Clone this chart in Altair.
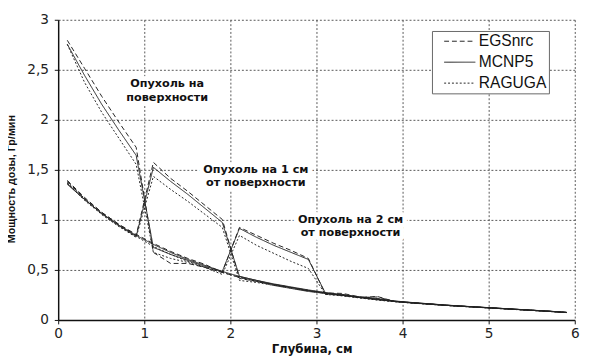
import altair as alt
import pandas as pd

depth = [0.1, 0.3, 0.5, 0.7, 0.9, 1.1, 1.3, 1.5, 1.7, 1.9, 2.1, 2.3, 2.5, 2.7, 2.9,
         3.1, 3.3, 3.5, 3.7, 3.9, 4.1, 4.3, 4.5, 4.7, 4.9, 5.1, 5.3, 5.5, 5.7, 5.9]

mcnp_surface = [2.76, 2.45, 2.16, 1.90, 1.65, 0.73, 0.66, 0.60, 0.54, 0.49, 0.44, 0.40, 0.36, 0.33, 0.30,
                0.275, 0.25, 0.23, 0.21, 0.19, 0.177, 0.165, 0.152, 0.142, 0.132, 0.122, 0.112, 0.102, 0.092, 0.08]
egs_surface = [2.80, 2.52, 2.24, 1.98, 1.73, 0.68, 0.57, 0.57, 0.53, 0.48, 0.43, 0.39, 0.355, 0.325, 0.295,
               0.27, 0.26, 0.23, 0.235, 0.19, 0.175, 0.163, 0.15, 0.14, 0.13, 0.12, 0.11, 0.10, 0.09, 0.08]
rag_surface = [2.76, 2.38, 2.08, 1.82, 1.56, 0.68, 0.62, 0.58, 0.53, 0.48, 0.43, 0.39, 0.35, 0.32, 0.29,
               0.27, 0.25, 0.225, 0.205, 0.188, 0.175, 0.163, 0.15, 0.14, 0.13, 0.12, 0.11, 0.10, 0.09, 0.079]

mcnp_1cm = [1.36, 1.21, 1.07, 0.95, 0.84, 1.53, 1.39, 1.26, 1.12, 0.98, 0.44, 0.40, 0.365, 0.335, 0.305,
            0.28, 0.255, 0.235, 0.215, 0.195, 0.18, 0.167, 0.154, 0.143, 0.133, 0.123, 0.113, 0.103, 0.093, 0.081]
egs_1cm = [1.40, 1.23, 1.08, 0.96, 0.85, 1.58, 1.42, 1.29, 1.15, 1.01, 0.42, 0.39, 0.36, 0.33, 0.30,
           0.275, 0.27, 0.235, 0.22, 0.192, 0.178, 0.165, 0.152, 0.142, 0.132, 0.122, 0.112, 0.102, 0.092, 0.08]
rag_1cm = [1.38, 1.22, 1.06, 0.94, 0.83, 1.44, 1.31, 1.19, 1.06, 0.93, 0.40, 0.38, 0.35, 0.32, 0.29,
           0.27, 0.25, 0.228, 0.208, 0.19, 0.176, 0.164, 0.151, 0.141, 0.131, 0.121, 0.111, 0.101, 0.091, 0.079]

mcnp_2cm = [1.37, 1.21, 1.07, 0.95, 0.85, 0.76, 0.68, 0.61, 0.55, 0.49, 0.92, 0.83, 0.75, 0.68, 0.61,
            0.27, 0.25, 0.232, 0.212, 0.193, 0.178, 0.166, 0.153, 0.142, 0.132, 0.122, 0.112, 0.102, 0.092, 0.08]
egs_2cm = [1.39, 1.22, 1.08, 0.96, 0.86, 0.77, 0.69, 0.62, 0.56, 0.48, 0.93, 0.85, 0.77, 0.70, 0.62,
           0.26, 0.255, 0.23, 0.24, 0.19, 0.176, 0.164, 0.151, 0.141, 0.131, 0.121, 0.111, 0.101, 0.091, 0.08]
rag_2cm = [1.37, 1.20, 1.06, 0.94, 0.84, 0.74, 0.66, 0.59, 0.53, 0.46, 0.85, 0.75, 0.67, 0.59, 0.52,
           0.26, 0.245, 0.225, 0.205, 0.188, 0.174, 0.162, 0.15, 0.14, 0.13, 0.12, 0.11, 0.10, 0.09, 0.079]

methods = ["EGSnrc", "MCNP5", "RAGUGA"]
series = {
    ("EGSnrc", "surface"): egs_surface, ("MCNP5", "surface"): mcnp_surface, ("RAGUGA", "surface"): rag_surface,
    ("EGSnrc", "1cm"): egs_1cm, ("MCNP5", "1cm"): mcnp_1cm, ("RAGUGA", "1cm"): rag_1cm,
    ("EGSnrc", "2cm"): egs_2cm, ("MCNP5", "2cm"): mcnp_2cm, ("RAGUGA", "2cm"): rag_2cm,
}

label_text = ["Опухоль на", "поверхности", "Опухоль на 1 см", "от поверхности",
              "Опухоль на 2 см", "от поверхности"]
label_x = [1.26, 1.26, 2.29, 2.29, 3.39, 3.39]
label_y = [2.36, 2.22, 1.50, 1.37, 1.00, 0.87]

x_ticks = [0, 1, 2, 3, 4, 5, 6]
x_tick_labels = ["0", "1", "2", "3", "4", "5", "6"]
y_ticks = [0, 0.5, 1, 1.5, 2, 2.5, 3]
y_tick_labels = ["0", "0,5", "1", "1,5", "2", "2,5", "3"]
x_grid = [1, 2, 3, 4, 5, 6]
y_grid = [0.5, 1, 1.5, 2, 2.5, 3]
x_title = "Глубина, см"
y_title = "Мощность дозы, Гр/мин"

rows = []
for (m, s), vals in series.items():
    for d, v in zip(depth, vals):
        rows.append({"depth": d, "dose": v, "method": m, "series": m + "_" + s})
df = pd.DataFrame(rows)
labels = pd.DataFrame({"x": label_x, "y": label_y, "text": label_text})
grid_df = pd.DataFrame({"gx": x_grid, "gy": y_grid})
xt_df = pd.DataFrame({"v": x_ticks, "t": x_tick_labels})
yt_df = pd.DataFrame({"v": y_ticks, "t": y_tick_labels})
zero_df = pd.DataFrame({"z": [0]})

xs = alt.Scale(domain=[0, 6], nice=False)
ys = alt.Scale(domain=[0, 3], nice=False)

vgrid = alt.Chart(grid_df).mark_rule(color="#555", strokeWidth=1, strokeDash=[2, 2]).encode(
    x=alt.X("gx:Q", scale=xs, axis=None))
hgrid = alt.Chart(grid_df).mark_rule(color="#555", strokeWidth=1, strokeDash=[2, 2]).encode(
    y=alt.Y("gy:Q", scale=ys, axis=None))

lines = alt.Chart(df).mark_line(strokeWidth=1, color="#222").encode(
    x=alt.X("depth:Q", scale=xs, axis=None),
    y=alt.Y("dose:Q", scale=ys, axis=None),
    strokeDash=alt.StrokeDash("method:N",
                              scale=alt.Scale(domain=methods, range=[[5, 3], [1, 0], [2, 2]]),
                              legend=alt.Legend(title=None, orient="none", legendX=383, legendY=11,
                                                fillColor="white", strokeColor="#666", padding=2,
                                                symbolType="M-2,0H2", symbolSize=256,
                                                symbolStrokeWidth=1, symbolStrokeColor="#222",
                                                symbolFillColor="transparent",
                                                symbolOffset=18, rowPadding=4.5,
                                                labelFont="Liberation Sans", labelFontSize=16,
                                                labelColor="#111", labelOffset=11,
                                                labelExpr="datum.label + '\u00a0\u00a0\u00a0\u00a0'")),
    detail="series:N",
    order="depth:Q",
)

halo = alt.Chart(labels).mark_text(font="DejaVu Sans", fontWeight="bold", fontSize=11.5,
                                   color="white", stroke="white", strokeWidth=10,
                                   strokeJoin="round").encode(
    x=alt.X("x:Q", scale=xs, axis=None), y=alt.Y("y:Q", scale=ys, axis=None), text="text:N")
txt = alt.Chart(labels).mark_text(font="DejaVu Sans", fontWeight="bold", fontSize=11.5,
                                  color="#111").encode(
    x=alt.X("x:Q", scale=xs, axis=None), y=alt.Y("y:Q", scale=ys, axis=None), text="text:N")

# hand-built axes (domain lines, ticks, labels, titles)
x_domain = alt.Chart(zero_df).mark_rule(color="#111", strokeWidth=1.5).encode(
    y=alt.Y("z:Q", scale=ys, axis=None))
y_domain = alt.Chart(zero_df).mark_rule(color="#111", strokeWidth=1.5).encode(
    x=alt.X("z:Q", scale=xs, axis=None))
x_tick_marks = alt.Chart(xt_df).mark_rule(color="#111", strokeWidth=1).encode(
    x=alt.X("v:Q", scale=xs, axis=None), y=alt.value(308), y2=alt.value(312))
y_tick_marks = alt.Chart(yt_df).mark_rule(color="#111", strokeWidth=1).encode(
    y=alt.Y("v:Q", scale=ys, axis=None), x=alt.value(-4), x2=alt.value(0))
x_tick_text = alt.Chart(xt_df).mark_text(font="DejaVu Sans", fontSize=14, color="#222",
                                         baseline="top", dy=0).encode(
    x=alt.X("v:Q", scale=xs, axis=None), y=alt.value(315), text="t:N")
y_tick_text = alt.Chart(yt_df).mark_text(font="DejaVu Sans", fontSize=14, color="#222",
                                         align="right", baseline="middle").encode(
    y=alt.Y("v:Q", scale=ys, axis=None), x=alt.value(-10), text="t:N")
x_title_mark = alt.Chart(pd.DataFrame({"t": [x_title]})).mark_text(
    font="DejaVu Sans", fontWeight="bold", fontSize=12, color="#111", baseline="middle").encode(
    x=alt.value(260), y=alt.value(337), text="t:N")
y_title_mark = alt.Chart(pd.DataFrame({"t": [y_title]})).mark_text(
    font="Liberation Sans", fontWeight="bold", fontSize=11, color="#111", angle=270,
    baseline="middle").encode(
    x=alt.value(-48), y=alt.value(163), text="t:N")

chart = alt.layer(vgrid, hgrid, lines, halo, txt, x_domain, y_domain, x_tick_marks, y_tick_marks,
                  x_tick_text, y_tick_text, x_title_mark, y_title_mark).properties(
    width=530, height=308,
    autosize=alt.AutoSizeParams(type="none"),
    padding={"left": 52, "top": 8, "right": 10, "bottom": 37},
).configure_view(stroke=None)

chart.save("out.html", embed_options={"renderer": "svg", "actions": False})
